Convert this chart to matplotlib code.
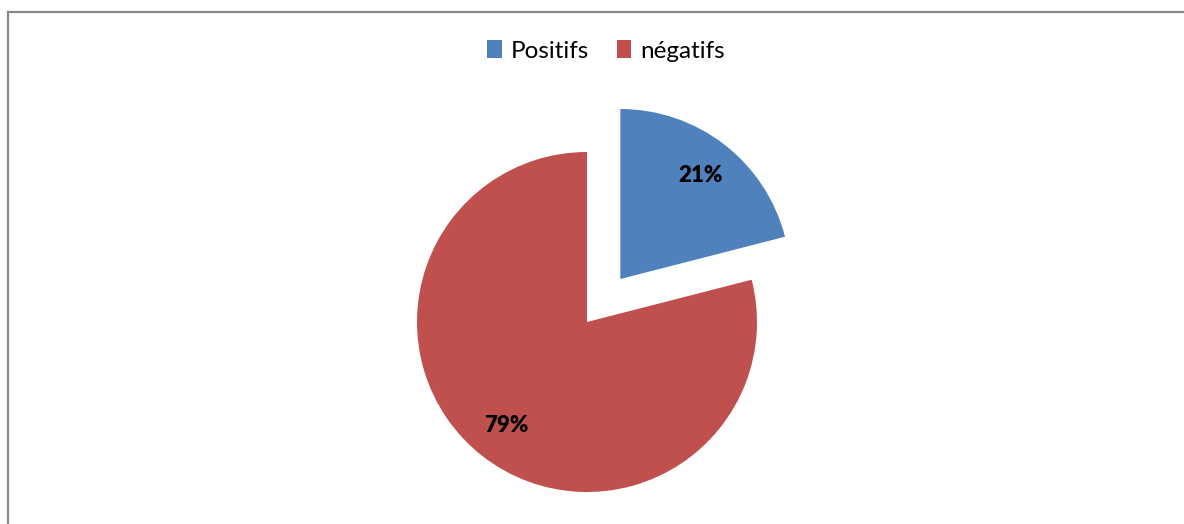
import matplotlib
matplotlib.use("Agg")
import matplotlib.pyplot as plt
from matplotlib.patches import Patch
from matplotlib.lines import Line2D

categories = ["Positifs", "négatifs"]
values = [21, 79]
colors = ["#4F81BD", "#C0504D"]

plt.rcParams['font.family'] = ['Lato', 'DejaVu Sans']

W, H = 1184, 524
fig = plt.figure(figsize=(W / 100, H / 100), dpi=100)
ax = fig.add_axes([0, 0, 1, 1])

R = 170
wedges, texts, autotexts = ax.pie(
    values, colors=colors, startangle=90, counterclock=False,
    explode=[0.32 * R, 0], radius=R, center=(587, H - 322),
    autopct=lambda p: f"{p:.0f}%", pctdistance=0.77,
    textprops=dict(fontsize=16, fontweight='heavy', color='black'),
    wedgeprops=dict(linewidth=0),
)
ax.set_xlim(0, W)
ax.set_ylim(0, H)
ax.set_aspect('auto')
ax.axis('off')

# chart frame (only left and top edges visible in crop)
ax.add_line(Line2D([7.5, 7.5], [0, H - 11.5], color='#898989', lw=1.6))
ax.add_line(Line2D([7.5, W], [H - 11.5, H - 11.5], color='#898989', lw=1.6))

handles = [Patch(facecolor=c, edgecolor='none') for c in colors]
fig.legend(handles, categories, loc='center', bbox_to_anchor=(606 / W, 1 - 51 / H),
           ncol=2, frameon=False, fontsize=17.5, handlelength=0.6, handleheight=0.7,
           handletextpad=0.35, columnspacing=1.15)

fig.savefig("out.png", dpi=100, facecolor='white')
